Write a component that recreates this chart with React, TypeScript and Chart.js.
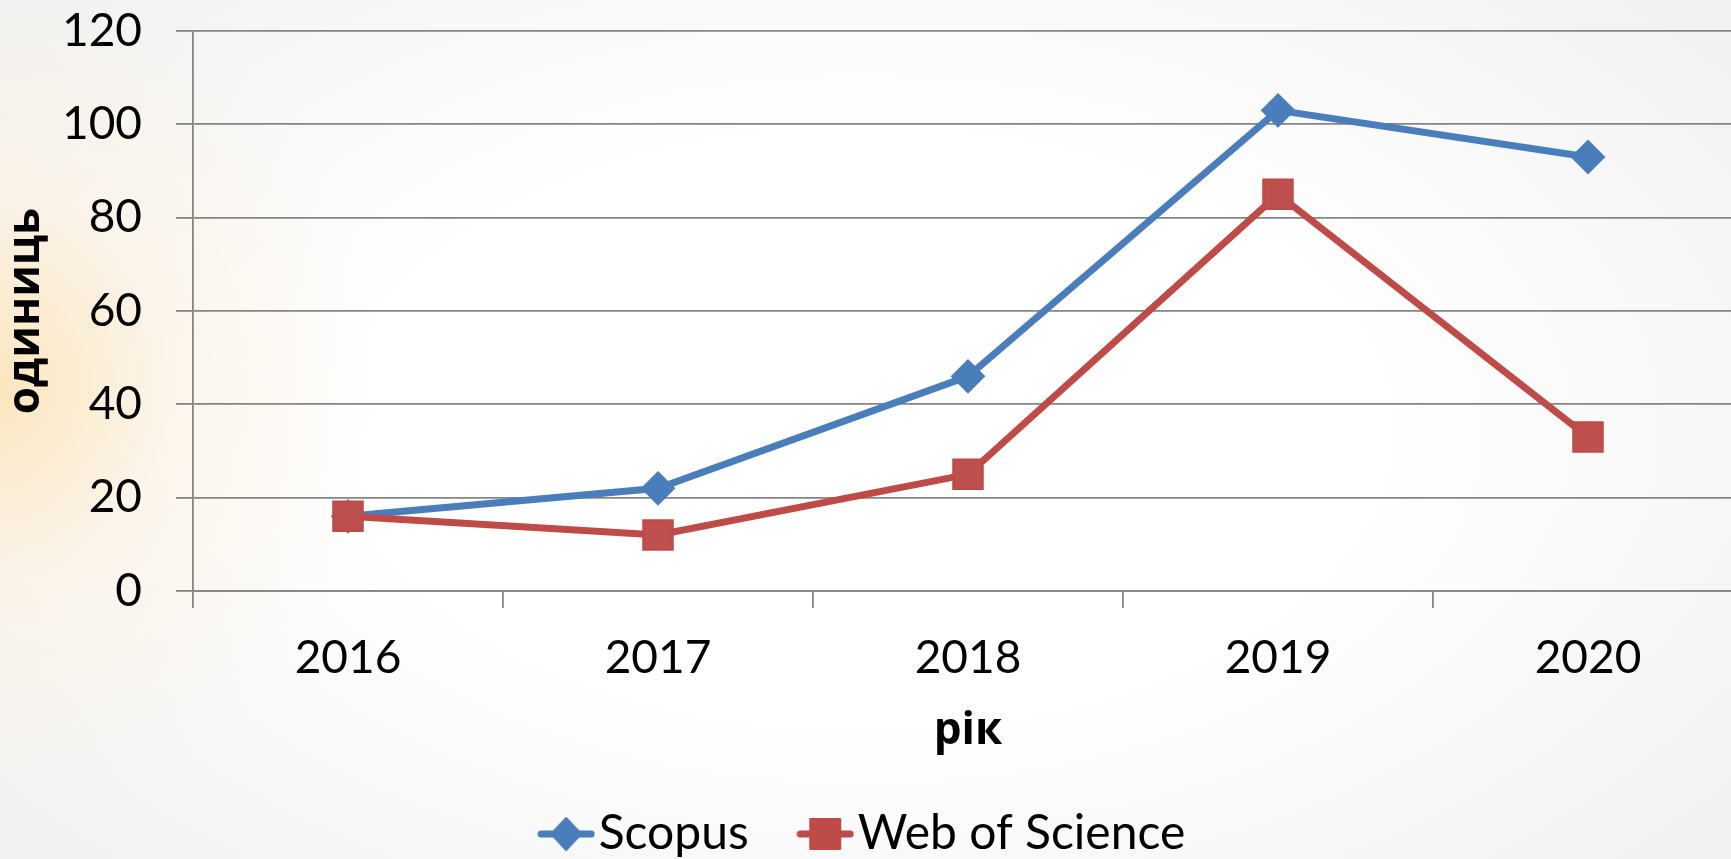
import React, { useEffect, useRef } from "react";
import { Chart, registerables } from "chart.js";

Chart.register(...registerables);

const categories = ["2016", "2017", "2018", "2019", "2020"];
const scopusValues = [16, 22, 46, 103, 93];
const wosValues = [16, 12, 25, 85, 33];
const seriesNames = ["Scopus", "Web of Science"];
const yAxisTitle = "одиниць";
const xAxisTitle = "рік";

const BLUE = "#4A7EBB";
const RED = "#BE4B48";

function makeLegendIcon(kind: "diamond" | "square", color: string) {
  const c = document.createElement("canvas");
  c.width = 58;
  c.height = 36;
  const ctx = c.getContext("2d")!;
  ctx.strokeStyle = color;
  ctx.lineWidth = 7;
  ctx.lineCap = "round";
  ctx.beginPath();
  ctx.moveTo(4, 18);
  ctx.lineTo(54, 18);
  ctx.stroke();
  ctx.fillStyle = color;
  ctx.lineJoin = "round";
  ctx.lineWidth = 2;
  ctx.beginPath();
  if (kind === "diamond") {
    ctx.moveTo(29, 2);
    ctx.lineTo(44, 18);
    ctx.lineTo(29, 34);
    ctx.lineTo(14, 18);
    ctx.closePath();
  } else {
    ctx.rect(14, 3, 30, 30);
  }
  ctx.fill();
  ctx.stroke();
  return c;
}

export default function App() {
  const ref = useRef<HTMLCanvasElement | null>(null);

  useEffect(() => {
    if (!ref.current) return;
    const icons = [makeLegendIcon("diamond", BLUE), makeLegendIcon("square", RED)];
    const chart = new Chart(ref.current, {
      type: "line",
      data: {
        labels: categories,
        datasets: [
          {
            label: seriesNames[0],
            data: scopusValues,
            borderColor: BLUE,
            backgroundColor: BLUE,
            borderWidth: 7,
            pointStyle: "rectRot",
            pointRadius: 16,
            pointBorderWidth: 2,
            pointBackgroundColor: BLUE,
            pointBorderColor: BLUE,
            tension: 0,
            order: 1,
          },
          {
            label: seriesNames[1],
            data: wosValues,
            borderColor: RED,
            backgroundColor: "#C0504D",
            borderWidth: 7,
            pointStyle: "rect",
            pointRadius: 20.5,
            pointBorderWidth: 2.5,
            pointBackgroundColor: "#C0504D",
            pointBorderColor: RED,
            tension: 0,
            order: 0,
          },
        ],
      },
      options: {
        responsive: false,
        animation: false,
        devicePixelRatio: 1,
        layout: { padding: { top: 0, left: 0, right: 0, bottom: 0 }, autoPadding: false },
        plugins: {
          tooltip: { enabled: false },
          legend: {
            position: "bottom",
            labels: {
              usePointStyle: true,
              pointStyleWidth: 17,
              padding: 68,
              color: "#000",
              font: { family: "Lato", size: 48 },
              generateLabels: () =>
                seriesNames.map((name, i) => ({
                  text: name,
                  pointStyle: icons[i],
                  datasetIndex: i,
                  fillStyle: "transparent",
                  strokeStyle: "transparent",
                  lineWidth: 0,
                  hidden: false,
                })),
            },
          },
        },
        scales: {
          x: {
            offset: true,
            grid: {
              offset: true,
              drawOnChartArea: false,
              drawTicks: true,
              tickLength: 17,
              color: "#858585",
              lineWidth: 1.8,
            },
            border: { display: true, color: "#858585", width: 1.8 },
            ticks: {
              color: "#000",
              padding: 23,
              font: { family: "Lato", size: 46 },
              maxRotation: 0,
            },
            title: {
              display: true,
              text: xAxisTitle,
              color: "#000",
              font: { family: "Open Sans", size: 44, weight: "bold", lineHeight: 1 },
              padding: { top: 0, bottom: -11 },
            },
            afterFit: (s: any) => {
              s.height = 151;
            },
          },
          y: {
            min: 0,
            max: 120,
            ticks: {
              stepSize: 20,
              color: "#000",
              padding: 34,
              font: { family: "Lato", size: 46 },
            },
            grid: {
              color: "#858585",
              lineWidth: 1.8,
              drawTicks: true,
              tickLength: 17,
            },
            border: { display: true, color: "#858585", width: 1.8 },
            title: {
              display: true,
              text: yAxisTitle,
              color: "#000",
              font: { family: "Open Sans", size: 44, weight: "bold", lineHeight: 1 },
              padding: { top: 4.5, bottom: 0 },
            },
            afterFit: (s: any) => {
              s.width = 193;
              s.paddingTop = 31;
              s.paddingBottom = 0;
            },
          },
        },
      },
    });
    return () => chart.destroy();
  }, []);

  return (
    <div
      style={{
        position: "fixed",
        left: 0,
        top: 0,
        width: 1731,
        height: 859,
        overflow: "hidden",
        background:
          "radial-gradient(ellipse 22% 50% at 0% 45%, rgba(253,228,185,0.9) 0%, rgba(253,240,220,0.5) 45%, rgba(253,245,235,0) 100%), radial-gradient(ellipse 65% 75% at 50% 50%, #ffffff 45%, #f1f1f1 100%)",
      }}
    >
      <canvas ref={ref} width={1743} height={868} style={{ display: "block" }} />
    </div>
  );
}
